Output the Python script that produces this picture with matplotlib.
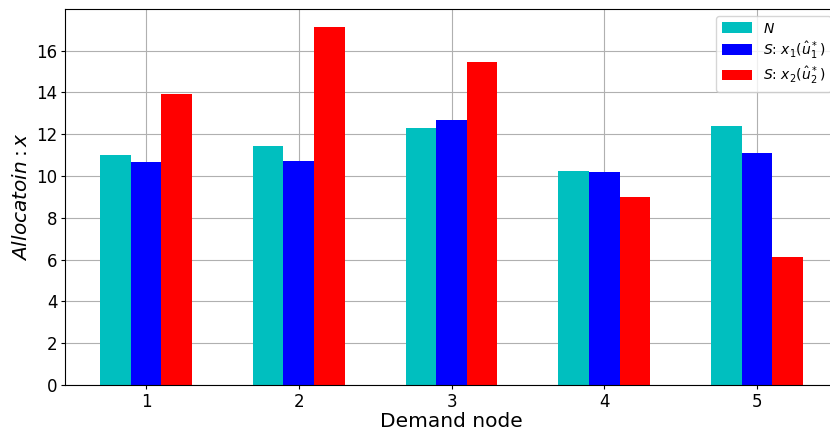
import numpy as np
import matplotlib.pyplot as plt

nodes = [1, 2, 3, 4, 5]
alloc_n = [11.0, 11.44, 12.3, 10.24, 12.39]
alloc_s1 = [10.67, 10.72, 12.68, 10.19, 11.1]
alloc_s2 = [13.92, 17.13, 15.45, 9.0, 6.12]

labels = ['$N$', '$S$: $x_1(\\hat{u}_1^*)$', '$S$: $x_2(\\hat{u}_2^*)$']

fig = plt.figure(figsize=(8.3, 4.3), dpi=100)
# right spine sits just past the image edge, as in the reference
ax = fig.add_axes([65/830, 45/430, 773/830, 376/430])

x = np.array(nodes)
w = 0.2
ax.bar(x - w, alloc_n, w, color='c', label=labels[0], zorder=2)
ax.bar(x, alloc_s1, w, color='b', label=labels[1], zorder=2)
ax.bar(x + w, alloc_s2, w, color='r', label=labels[2], zorder=2)

ax.set_xticks(nodes)
ax.grid(True, color='#b0b0b0', zorder=0)
ax.set_axisbelow(True)
ax.tick_params(labelsize=12, length=3, pad=2.5)
ax.set_xlabel('Demand node', fontsize=14.5, labelpad=1)
ax.set_ylabel('$Allocatoin: x$', fontsize=14.5)
ax.legend(loc='upper right', fontsize=10, labelspacing=0.25,
          handlelength=2.2, handleheight=0.8)

fig.savefig('out.png', dpi=100)
